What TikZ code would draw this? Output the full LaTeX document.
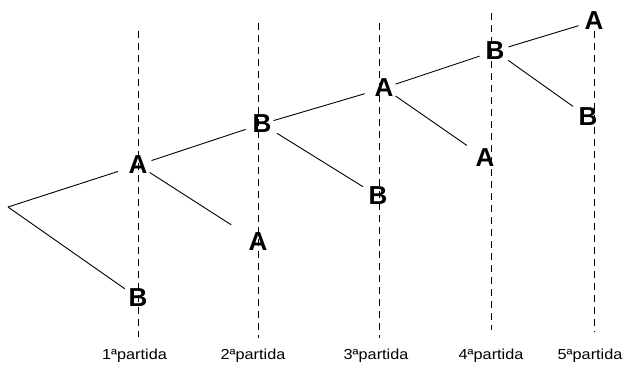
\documentclass[tikz,border=0pt]{standalone}
\usepackage{fontspec}
\setmainfont{Liberation Sans}
\newfontfamily\labelfont[FakeStretch=1.12]{Liberation Sans}
\begin{document}
\begin{tikzpicture}[x=1pt,y=-1pt,
  letter/.style={font=\fontsize{26}{30}\selectfont\bfseries, inner sep=2pt, anchor=center},
  gamelabel/.style={font=\labelfont\fontsize{14.5}{17}\selectfont, inner sep=0pt, anchor=base},
  branch/.style={line width=0.9pt, black},
  column/.style={line width=1pt, black, dash pattern=on 7pt off 5pt}]
\useasboundingbox (0,0) rectangle (624,367);

% vertical dashed guides, one per game
\coordinate (t1) at (138,31);  \coordinate (b1) at (138,337);
\coordinate (t2) at (258,23);  \coordinate (b2) at (258,338);
\coordinate (t3) at (379,23);  \coordinate (b3) at (379,338);
\coordinate (t4) at (491,13);  \coordinate (b4) at (491,330);
\coordinate (t5) at (594,31);  \coordinate (b5) at (594,332);
\foreach \i in {1,...,5} \draw[column] (t\i) -- (b\i);

% tree nodes
\coordinate (root) at (8,207);
\node[letter] (A1) at (138,165) {A};
\node[letter] (B1) at (138,298) {B};
\node[letter] (B2) at (262,124) {B};
\node[letter] (A2) at (258,242) {A};
\node[letter] (A3) at (384,88)  {A};
\node[letter] (B3) at (378,196) {B};
\node[letter] (B4) at (495,51)  {B};
\node[letter] (A4) at (485,158) {A};
\node[letter] (A5) at (594,21)  {A};
\node[letter] (B5) at (588,117) {B};

% branches
\draw[branch, shorten >=9pt] (root) -- (A1);
\draw[branch, shorten >=2pt] (root) -- (B1);
\draw[branch, shorten <=2pt, shorten >=5pt] (A1) -- (B2);
\draw[branch, shorten >=18pt] (A1) -- (A2);
\draw[branch, shorten >=8pt] (B2) -- (A3);
\draw[branch, shorten <=4pt, shorten >=4pt] (B2) -- (B3);
\draw[branch, shorten >=4pt] (A3) -- (B4);
\draw[branch, shorten >=8pt] (A3) -- (A4);
\draw[branch, shorten <=2pt, shorten >=4pt] (B4) -- (A5);
\draw[branch, shorten <=2pt, shorten >=4pt] (B4) -- (B5);

% game labels
\node[gamelabel] (l1) at (134.5,359) {1ªpartida};
\node[gamelabel] (l2) at (253,359) {2ªpartida};
\node[gamelabel] (l3) at (376,359) {3ªpartida};
\node[gamelabel] (l4) at (491,359) {4ªpartida};
\node[gamelabel] (l5) at (590,359) {5ªpartida};
\end{tikzpicture}
\end{document}
